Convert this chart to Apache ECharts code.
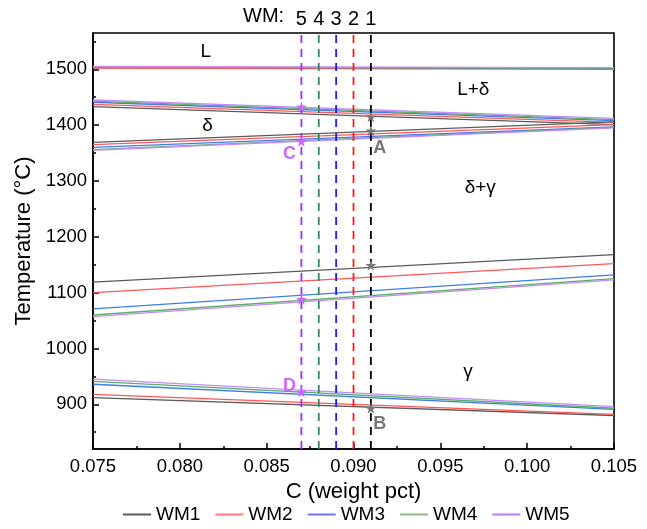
<!DOCTYPE html>
<html>
<head>
<meta charset="utf-8">
<script src="https://cdn.jsdelivr.net/npm/echarts@6/dist/echarts.min.js"></script>
<style>html,body{margin:0;padding:0;background:#fff}#c{width:647px;height:529px}</style>
</head>
<body>
<div id="c"></div>
<script>
// ---- data ----
const cPct = [0.075, 0.105];                 // x ends of each boundary line
const wmNames = ['WM1', 'WM2', 'WM3', 'WM4', 'WM5'];
// each boundary: per WM [T at 0.075, T at 0.105]
const boundaryL = [[1503, 1502], [1502, 1500], [1504, 1502], [1504, 1502], [1505, 1503]];
const boundaryLd = [[1433, 1401], [1437, 1405], [1441, 1408], [1443, 1410], [1445, 1412]];
const boundaryDelta = [[1369, 1406], [1365, 1401], [1360, 1397], [1356, 1396], [1355, 1395]];
const boundaryGammaHigh = [[1119, 1168], [1100, 1152], [1071, 1132], [1060, 1125], [1057, 1123]];
const boundaryGammaLow = [[912, 880], [918, 882], [936, 891], [941, 893], [945, 896]];
const wmC = [0.091, 0.090, 0.089, 0.088, 0.087];
const wmLabels = ['1', '2', '3', '4', '5'];
const tRange = [820, 1565];
const grayStarC = 0.091;
const grayStarT = [1415, 1390, 1149, 893];
const grayStarLabel = ['', 'A', '', 'B'];
const purpleStarC = 0.087;
const purpleStarT = [1433, 1371, 1088, 922];
const purpleStarLabel = ['', 'C', '', 'D'];
const regionText = ['L', 'L+δ', 'δ', 'δ+γ', 'γ'];
const regionC = [0.0815, 0.0969, 0.0816, 0.0973, 0.0966];
const regionT = [1531, 1463, 1398, 1287, 958];
const yMajor = [900, 1000, 1100, 1200, 1300, 1400, 1500];
const yMinor = [850, 950, 1050, 1150, 1250, 1350, 1450, 1550];

// ---- styles ----
const lineColors = ['#5a5a5a', '#ff5555', '#3d7ee6', '#5aae66', '#c48af7'];
const legendColors = ['#5a5a5a', '#ff7a7a', '#6f75f0', '#8fb585', '#b77cf5'];
const dashColors = ['#000000', '#ff1a1a', '#1a1aff', '#2e8b57', '#9b30ff'];
const FONT = 'Liberation Sans, Arial, sans-serif';
const STAR = 'path://M50,0 L61,35 L98,35 L68,57 L79,91 L50,70 L21,91 L32,57 L2,35 L39,35 Z';

const series = [];
[boundaryL, boundaryLd, boundaryDelta, boundaryGammaHigh, boundaryGammaLow].forEach(b => {
  b.forEach((v, i) => {
    series.push({
      type: 'line', name: wmNames[i],
      data: [[cPct[0], v[0]], [cPct[1], v[1]]],
      symbol: 'none', silent: true, animation: false,
      color: legendColors[i],
      lineStyle: { color: lineColors[i], width: 1.3 }
    });
  });
});

// dashed WM marker lines
wmC.forEach((c, i) => {
  series.push({
    type: 'line', name: 'dash' + i, silent: true, animation: false,
    data: [[c, tRange[0]], [c, tRange[1]]], symbol: 'none',
    lineStyle: { color: dashColors[i], type: [8, 6], width: 1.8 }, z: 3
  });
});
// WM numbers above the plot
series.push({
  type: 'scatter', name: 'wmnum', silent: true, animation: false, symbolSize: 0,
  itemStyle: { opacity: 1 },
  data: wmC.map((c, i) => ({ value: [c, tRange[1]], name: wmLabels[i] })),
  label: { show: true, position: 'top', distance: 4, formatter: p => p.name, fontSize: 20, color: '#000', opacity: 1, fontFamily: FONT }
});

function starSeries(c, temps, labels, color, pos) {
  return {
    type: 'scatter', name: 'stars', silent: true, animation: false,
    symbol: STAR, symbolSize: 11, itemStyle: { color: color, opacity: 1 },
    data: temps.map((t, i) => ({
      value: [c, t],
      label: labels[i] ? {
        show: true, formatter: labels[i], position: pos[i], fontSize: 18, fontWeight: 'bold',
        color: color, opacity: 1, fontFamily: FONT
      } : { show: false }
    })),
    z: 5
  };
}
series.push(starSeries(grayStarC, grayStarT, grayStarLabel, '#777777',
  [null, [8, 14], null, [8, 12]]));
series.push(starSeries(purpleStarC, purpleStarT, purpleStarLabel, '#cc66ff',
  [null, [-13, 9], null, [-13, -10]]));

// region labels
series.push({
  type: 'scatter', name: 'regions', silent: true, animation: false,
  symbolSize: 0, itemStyle: { opacity: 1 },
  data: regionText.map((s, i) => ({ value: [regionC[i], regionT[i]], name: s })),
  label: { show: true, position: 'inside', formatter: p => p.name, fontSize: 19, color: '#000', opacity: 1, fontFamily: FONT }
});

const chart = echarts.init(document.getElementById('c'), null, { renderer: 'canvas' });
chart.setOption({
  animation: false,
  textStyle: { fontFamily: FONT },
  grid: { left: 93, right: 33, top: 33, bottom: 80, show: true, borderColor: '#000', borderWidth: 1.6, backgroundColor: 'transparent' },
  legend: {
    data: wmNames.map(n => ({ name: n, icon: 'rect' })), bottom: 0, left: 118,
    itemWidth: 28, itemHeight: 2, itemGap: 15,
    textStyle: { fontSize: 19, color: '#000', fontFamily: FONT }
  },
  graphic: [{
    type: 'text', left: 243, top: 6,
    style: { text: 'WM:', fontSize: 20, fill: '#000', fontFamily: FONT }
  }],
  xAxis: [{
    type: 'value', min: 0.075, max: 0.105, interval: 0.005,
    name: 'C (weight pct)', nameLocation: 'middle', nameGap: 31,
    nameTextStyle: { fontSize: 22, color: '#000' },
    axisLine: { show: true, lineStyle: { color: '#000', width: 1.6 } },
    axisTick: { show: true, inside: true, length: 6, lineStyle: { color: '#000', width: 1.5 } },
    minorTick: { show: true, splitNumber: 2, length: 3, lineStyle: { color: '#000', width: 1.5 } },
    axisLabel: { fontSize: 18.5, color: '#000', margin: 8, formatter: v => v.toFixed(3) },
    splitLine: { show: false }, minorSplitLine: { show: false }
  }],
  yAxis: [{
    type: 'value', min: tRange[0], max: tRange[1],
    name: 'Temperature (°C)', nameLocation: 'middle', nameGap: 52,
    nameTextStyle: { fontSize: 22, color: '#000' },
    axisLine: { show: true, lineStyle: { color: '#000', width: 1.6 } },
    axisTick: { show: true, inside: true, length: 6, customValues: yMajor, lineStyle: { color: '#000', width: 1.5 } },
    axisLabel: { fontSize: 18.5, color: '#000', margin: 6, customValues: yMajor, formatter: v => String(v) },
    splitLine: { show: false }
  }, {
    type: 'value', min: tRange[0], max: tRange[1], position: 'left', offset: 0,
    axisLine: { show: false },
    axisTick: { show: true, inside: true, length: 3, customValues: yMinor, lineStyle: { color: '#000', width: 1.5 } },
    axisLabel: { show: false, customValues: yMinor },
    splitLine: { show: false }
  }],
  series: series
});
</script>
</body>
</html>
